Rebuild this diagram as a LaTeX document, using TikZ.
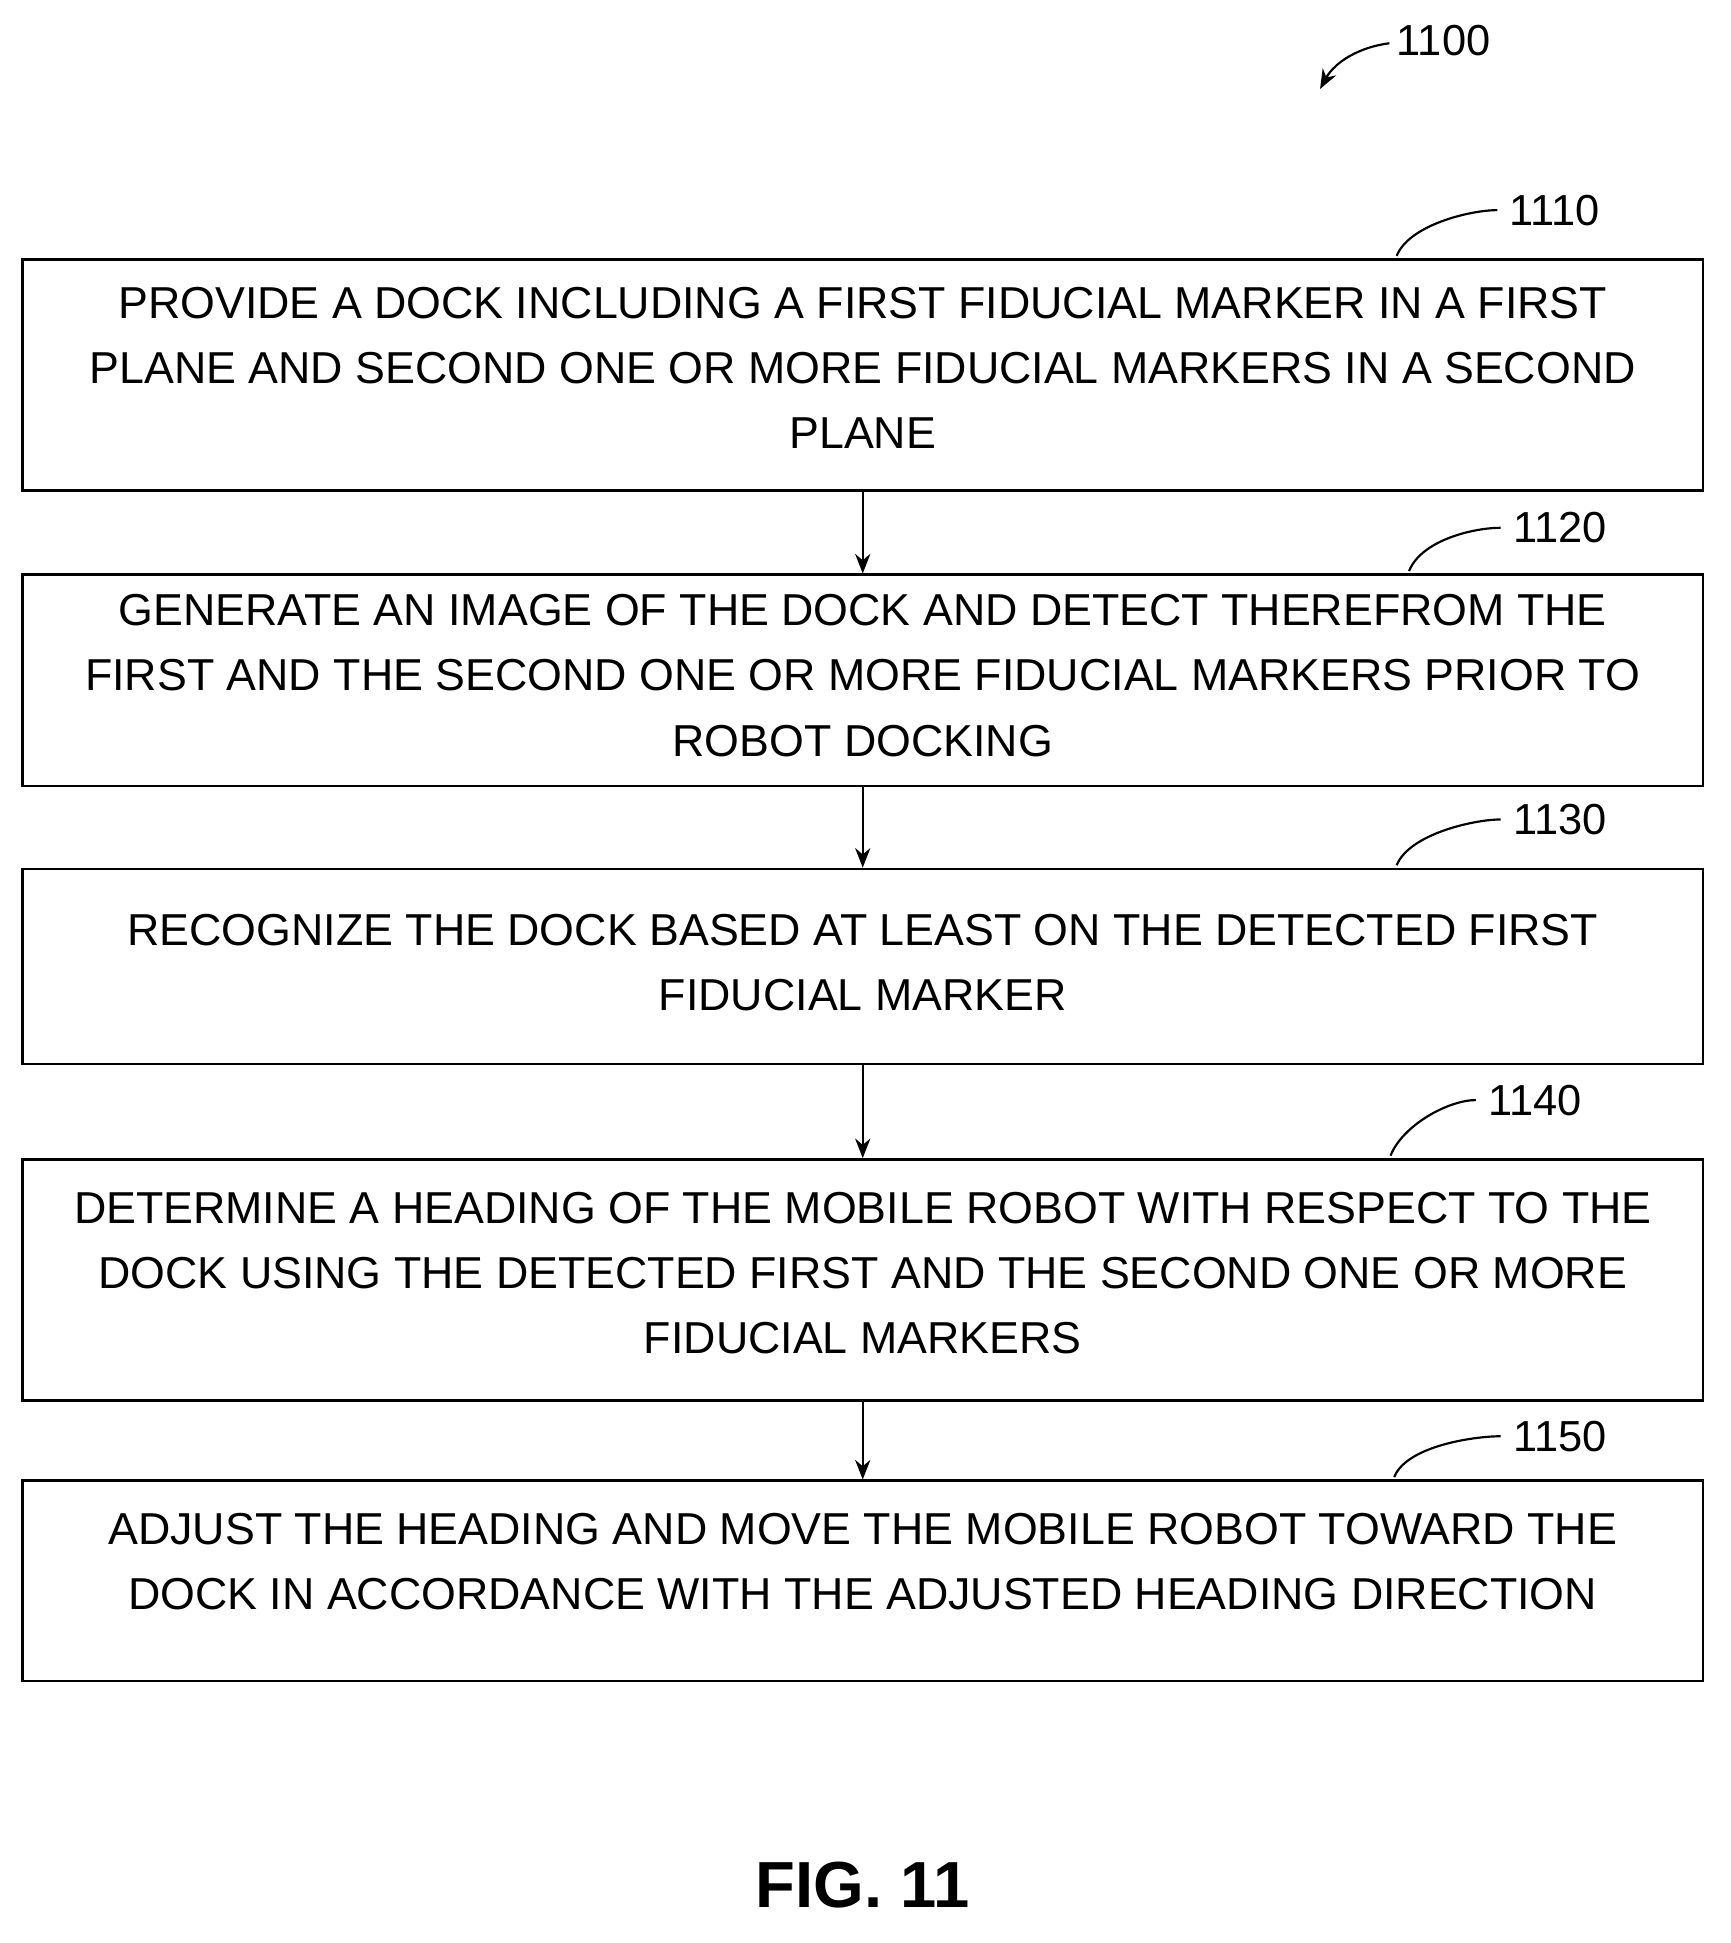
\documentclass[tikz,border=0pt]{standalone}
\usepackage{fontspec}
\setmainfont{Liberation Sans}
\usetikzlibrary{positioning,arrows.meta,calc}
\begin{document}
\begin{tikzpicture}[x=0.02cm,y=-0.02cm,
  stepbox/.style={draw, line width=1.2pt, minimum width=27.2cm, inner sep=0pt},
  steptext/.style={align=center, inner sep=0pt, font=\fontsize{20.6}{30}\selectfont},
  lbl/.style={font=\fontsize{20}{24}\selectfont, inner sep=1pt},
  flow/.style={-{Stealth[length=9pt,width=7pt]}, line width=1pt}]
\useasboundingbox (0,0) rectangle (1400,1572);
% steps
\node[stepbox, minimum height=3.74cm] (s1) at (698,303.5) {};
\node[steptext] (t1) at (698,297.5) {PROVIDE A DOCK INCLUDING A FIRST FIDUCIAL MARKER IN A FIRST\\PLANE AND SECOND ONE OR MORE FIDUCIAL MARKERS IN A SECOND\\PLANE};
\node[stepbox, minimum height=3.42cm] (s2) at (698,550.5) {};
\node[steptext] (t2) at (698,546.5) {GENERATE AN IMAGE OF THE DOCK AND DETECT THEREFROM THE\\FIRST AND THE SECOND ONE OR MORE FIDUCIAL MARKERS PRIOR TO\\ROBOT DOCKING};
\node[stepbox, minimum height=3.16cm] (s3) at (698,782) {};
\node[steptext] (t3) at (698,778.5) {RECOGNIZE THE DOCK BASED AT LEAST ON THE DETECTED FIRST\\FIDUCIAL MARKER};
\node[stepbox, minimum height=3.9cm] (s4) at (698,1035.5) {};
\node[steptext] (t4) at (698,1030) {DETERMINE A HEADING OF THE MOBILE ROBOT WITH RESPECT TO THE\\DOCK USING THE DETECTED FIRST AND THE SECOND ONE OR MORE\\FIDUCIAL MARKERS};
\node[stepbox, minimum height=3.24cm] (s5) at (698,1279) {};
\node[steptext] (t5) at (698,1263.5) {ADJUST THE HEADING AND MOVE THE MOBILE ROBOT TOWARD THE\\DOCK IN ACCORDANCE WITH THE ADJUSTED HEADING DIRECTION};
% arrows
\foreach \a/\b in {s1/s2,s2/s3,s3/s4,s4/s5}{\draw[flow] (\a) -- (\b);}
% reference labels
\foreach \t/\lx/\ly/\sx/\sy in {1110/1258/170/1130/207, 1120/1262/427/1140/462, 1130/1262/663/1130/700, 1140/1242/890/1125/935, 1150/1262/1162/1128/1195}{
  \node[lbl] (l\t) at (\lx,\ly) {\t};
  \coordinate (c\t) at (\sx,\sy);
  \draw[line width=1pt] (c\t) .. controls ($(c\t)+(10,-25)$) and ($(l\t.west)+(-30,0)$) .. ($(l\t.west)+(-8,0)$);
}
\node[lbl] (fig) at (1168,33) {1100};
\coordinate (fa) at (1068,72);
\draw[-{Stealth[length=9pt,width=7pt]}, line width=1pt] ($(fig.west)+(-4,2)$) .. controls (1100,38) and (1080,50) .. (fa);
\node[font=\bfseries\fontsize{30}{36}\selectfont] (title) at (698,1525) {FIG. 11};
\end{tikzpicture}
\end{document}
